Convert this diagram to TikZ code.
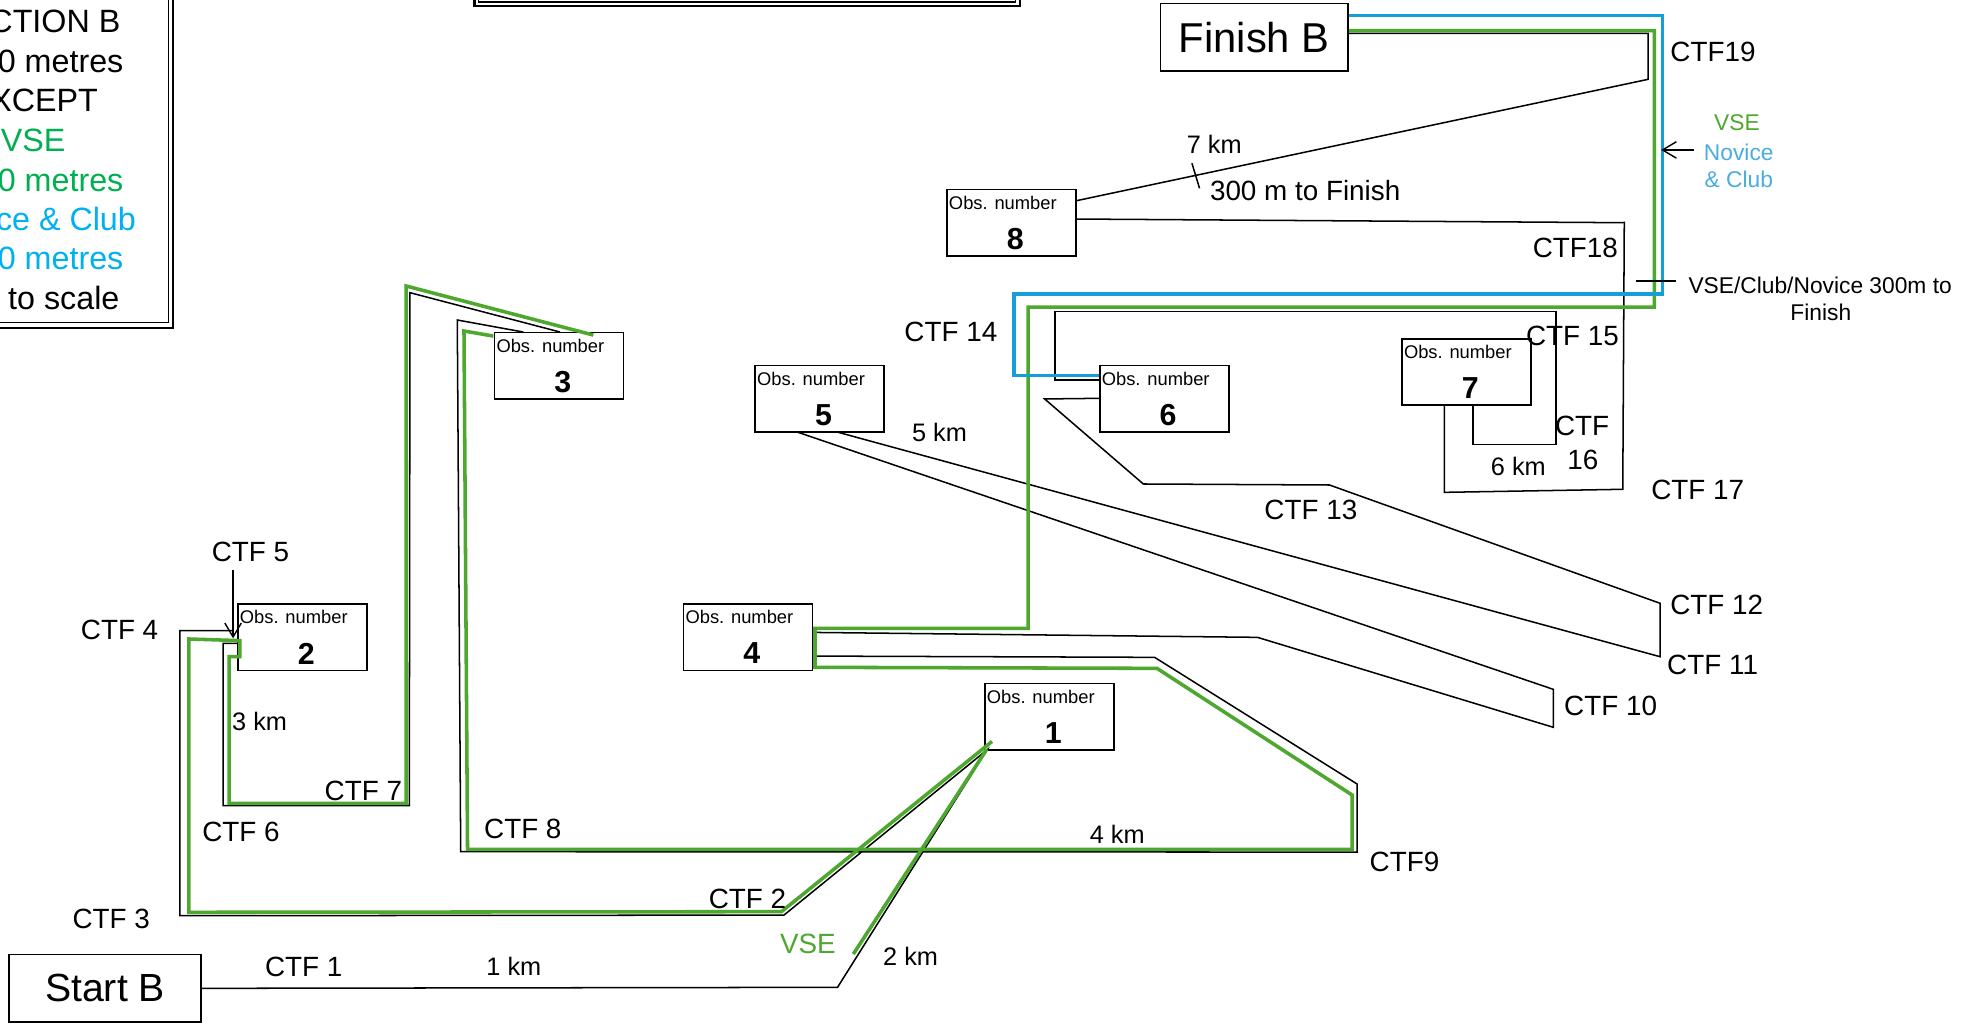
\documentclass[tikz,border=0pt]{standalone}
\usepackage{fontspec}
\setmainfont{Liberation Sans}
\usetikzlibrary{arrows.meta,calc}
\definecolor{rgreen}{RGB}{78,167,46}
\definecolor{rblue}{RGB}{22,158,216}
\definecolor{lgreen}{RGB}{0,176,80}
\definecolor{lcyan}{RGB}{0,176,240}
\definecolor{nblue}{RGB}{74,173,224}
\newcommand\mkobs[3]{%
  \node[obsbox] (#1) at (#2) {};
  \node[obstitle] (#1t) at ($(#1.north west)+(2,11)$) {Obs. number};
  \node[obsnum] (#1n) at ($(#1.center)+(3,13)$) {#3};
}
\begin{document}
\begin{tikzpicture}[x=1pt,y=-1pt,
  course/.style={line width=1.2pt,black},
  vsepath/.style={line width=2.8pt,rgreen},
  clubpath/.style={line width=2.8pt,rblue},
  obsbox/.style={draw,line width=1.2pt,minimum width=102pt,minimum height=52.5pt,inner sep=0pt},
  bigbox/.style={draw,line width=1.2pt,inner sep=0pt},
  obstitle/.style={anchor=west,inner sep=0pt,font=\fontsize{14.5}{16}\selectfont},
  obsnum/.style={inner sep=0pt,font=\fontsize{24}{26}\selectfont\bfseries},
  lbl/.style={inner sep=0pt,font=\fontsize{22}{24}\selectfont},
  kmlbl/.style={inner sep=0pt,font=\fontsize{20}{22}\selectfont},
  smalllbl/.style={inner sep=0pt,font=\fontsize{18}{20}\selectfont},
  legend/.style={inner sep=0pt,anchor=east,font=\fontsize{25.5}{28}\selectfont},
  barb/.style={-{Straight Barb[length=11pt,width=13pt]},line width=1.1pt}
]
\useasboundingbox (0,0) rectangle (1568,809);
\clip (0,0) rectangle (1568,809);
\fill[white] (0,0) rectangle (1568,809);

% legend box (cut by the page edge)
\draw[line width=1.6pt] (-10,-10) rectangle (136.9,259.5);
\draw[line width=0.9pt] (-10,-10) rectangle (133.4,255);
\node[legend] (lg1) at (95.3,17.1) {CTION B};
\node[legend] (lg2) at (97.7,48.7) {0 metres};
\node[legend] (lg3) at (77.6,79.6) {XCEPT};
\node[legend,text=lgreen] (lg4) at (51.9,110.6) {VSE};
\node[legend,text=lgreen] (lg5) at (97.7,142.3) {0 metres};
\node[legend,text=lcyan] (lg6) at (107.6,173.1) {ce \& Club};
\node[legend,text=lcyan] (lg7) at (97.7,204.2) {0 metres};
\node[legend] (lg8) at (94.6,235.8) {to scale};

% top box (cut by the page edge)
\draw[line width=1.6pt] (375,-10) rectangle (805.9,4.5);
\draw[line width=0.9pt] (378.5,-10) rectangle (802.4,1.6);

% start / finish
\node[bigbox,minimum width=151.7pt,minimum height=53.2pt,font=\fontsize{31}{34}\selectfont] (startB) at (83,780.9) {Start B};
\node[bigbox,minimum width=148.4pt,minimum height=53.5pt,font=\fontsize{33}{36}\selectfont] (finishB) at (991.2,29.35) {Finish B};

% obstacle boxes
\mkobs{o1}{829.4,566.5}{1}
\mkobs{o2}{239,503.6}{2}
\mkobs{o3}{441.8,288.9}{3}
\mkobs{o4}{591.2,503.5}{4}
\mkobs{o5}{647.8,315.1}{5}
\mkobs{o6}{920.2,315.1}{6}
\mkobs{o7}{1159,294}{7}
\mkobs{o8}{799.4,176.2}{8}

% corner coordinates
\coordinate (s0) at (startB.east |- 0,781.1);
\coordinate (ctf1) at (661.9,780.3);
\coordinate (p1) at (780,592.7);
\coordinate (ctf2) at (619.6,723.2);
\coordinate (ctf3) at (142.2,723.7);
\coordinate (ctf4) at (142.2,498.4);
\coordinate (ctf5) at (184.2,498.4);
\coordinate (q2a) at (187.7,508.4);
\coordinate (q2b) at (176.4,508.4);
\coordinate (ctf6) at (176.4,636.7);
\coordinate (ctf7) at (323.5,636.7);
\coordinate (t7) at (324,231.3);
\coordinate (q3a) at (442.6,262.4);
\coordinate (q3b) at (413.6,262.4);
\coordinate (t8) at (361.4,252.9);
\coordinate (ctf8) at (364.1,673.1);
\coordinate (ctf9) at (1072.5,673.4);
\coordinate (ctf9b) at (1072.5,619.6);
\coordinate (k9) at (912.5,519.5);
\coordinate (q4a) at (642.2,518.5);
\coordinate (q4b) at (642.2,499.8);
\coordinate (k10) at (993.8,503.7);
\coordinate (ctf10a) at (1227.6,574.8);
\coordinate (ctf10b) at (1227.6,544.8);
\coordinate (q5a) at (630.8,341.7);
\coordinate (q5b) at (662.6,341.7);
\coordinate (ctf11) at (1312,519);
\coordinate (ctf12) at (1312,476.8);
\coordinate (ctf13a) at (1050.7,383.3);
\coordinate (ctf13b) at (903.6,382.5);
\coordinate (k13) at (825.6,315.3);
\coordinate (q6a) at (869,314.8);
\coordinate (q6b) at (869,300.3);
\coordinate (k14) at (833.7,300.3);
\coordinate (ctf14) at (833.7,246);
\coordinate (ctf15) at (1229.8,246);
\coordinate (ctf16) at (1229.8,351.2);
\coordinate (k16) at (1164.3,351.2);
\coordinate (q7a) at (1164.3,320.3);
\coordinate (q7b) at (1141.5,320.3);
\coordinate (k17) at (1141.5,389.1);
\coordinate (ctf17) at (1282.5,386.7);
\coordinate (ctf18t) at (1283.7,175.2);
\coordinate (ctf18) at (1283.5,176);
\coordinate (q8a) at (850.8,173.1);
\coordinate (q8b) at (850.8,158.6);
\coordinate (ctf19a) at (1302.5,62.7);
\coordinate (ctf19b) at (1302.5,26.3);
\coordinate (fb) at (finishB.east |- 0,26.3);

% black course
\draw[course] (s0) -- (ctf1) -- (p1) -- (ctf2) -- (ctf3) -- (ctf4) -- (ctf5);
\draw[course] (q2a) -- (q2b) -- (ctf6) -- (ctf7) -- (t7) -- (q3a);
\draw[course] (q3b) -- (t8) -- (ctf8) -- (ctf9) -- (ctf9b) -- (k9) -- (q4a);
\draw[course] (q4b) -- (k10) -- (ctf10a) -- (ctf10b) -- (q5a);
\draw[course] (q5b) -- (ctf11) -- (ctf12) -- (ctf13a) -- (ctf13b) -- (k13) -- (q6a);
\draw[course] (q6b) -- (k14) -- (ctf14) -- (ctf15) -- (ctf16) -- (k16) -- (q7a);
\draw[course] (q7b) -- (k17) -- (ctf17) -- (ctf18t);
\draw[course] (ctf18) -- (q8a);
\draw[course] (q8b) -- (ctf19a) -- (ctf19b) -- (fb);

% green VSE route
\coordinate (g0) at (finishB.east |- 0,24.2);
\coordinate (g1) at (1307.4,24.2);
\coordinate (g2) at (1307.4,242.7);
\coordinate (g3) at (812.5,242.7);
\coordinate (g4) at (812.5,496.6);
\coordinate (g5) at (644.1,496.6);
\coordinate (g6) at (644.1,527.4);
\coordinate (g7) at (914.4,528.2);
\coordinate (g8) at (1068.6,628.3);
\coordinate (g9) at (1068.6,671.2);
\coordinate (g10) at (369.5,671.2);
\coordinate (g11) at (366.7,261.6);
\coordinate (g12) at (389.9,265.6);
\coordinate (h0) at (468.9,264.8);
\coordinate (h1) at (320.9,226);
\coordinate (h2) at (321,634.9);
\coordinate (h3) at (181,634.9);
\coordinate (h4) at (181,519);
\coordinate (h5) at (189.5,519);
\coordinate (h6) at (189.5,506.3);
\coordinate (h7) at (149.2,505);
\coordinate (h8) at (149.2,721);
\coordinate (h9) at (617.6,720.5);
\coordinate (h10) at (784,586);
\coordinate (v0) at (780,592);
\coordinate (v1) at (674.4,754);
\draw[vsepath] (g0) -- (g1) -- (g2) -- (g3) -- (g4) -- (g5) -- (g6) -- (g7) -- (g8) -- (g9) -- (g10) -- (g11) -- (g12);
\draw[vsepath] (h0) -- (h1) -- (h2) -- (h3) -- (h4) -- (h5) -- (h6) -- (h7) -- (h8) -- (h9) -- (h10);
\draw[vsepath] (v0) -- (v1);

% blue Novice & Club route
\coordinate (b0) at (finishB.east |- 0,12.4);
\coordinate (b1) at (1314,12.4);
\coordinate (b2) at (1314,232.2);
\coordinate (b3) at (801.2,232.2);
\coordinate (b4) at (801.2,296.9);
\coordinate (b5) at (o6.west |- 0,296.9);
\draw[clubpath] (b0) -- (b1) -- (b2) -- (b3) -- (b4) -- (b5);

% ticks and arrows
\coordinate (tk1a) at (942,129);
\coordinate (tk1b) at (948,148.8);
\draw[course] (tk1a) -- (tk1b);
\coordinate (tk2a) at (1292.6,222.1);
\coordinate (tk2b) at (1324.8,222.1);
\draw[course] (tk2a) -- (tk2b);
\coordinate (ar1a) at (184.2,450.5);
\coordinate (ar1b) at (184.2,504.5);
\draw[barb] (ar1a) -- (ar1b);
\coordinate (ar2a) at (1338.6,118.5);
\coordinate (ar2b) at (1312.8,118.5);
\draw[barb] (ar2a) -- (ar2b);

% labels
\node[lbl] (l1) at (240,764) {CTF 1};
\node[kmlbl] (l1k) at (406.1,763.5) {1 km};
\node[lbl] (l2) at (590.7,710.8) {CTF 2};
\node[lbl,text=rgreen] (lv) at (638.5,746) {VSE};
\node[kmlbl] (l2k) at (719.7,755.6) {2 km};
\node[lbl] (l3) at (87.9,726.3) {CTF 3};
\node[lbl] (l4) at (94.5,497.9) {CTF 4};
\node[lbl] (l5) at (198,436.5) {CTF 5};
\node[kmlbl] (l3k) at (205.2,570.4) {3 km};
\node[lbl] (l6) at (190.5,657.8) {CTF 6};
\node[lbl] (l7) at (287.2,624.9) {CTF 7};
\node[lbl] (l8) at (413.2,655.2) {CTF 8};
\node[kmlbl] (l4k) at (883,659) {4 km};
\node[lbl] (l9) at (1110,681) {CTF9};
\node[lbl] (l10) at (1272.9,558) {CTF 10};
\node[lbl] (l11) at (1353.5,525.6) {CTF 11};
\node[lbl] (l12) at (1356.7,478.1) {CTF 12};
\node[kmlbl] (l5k) at (742.5,342) {5 km};
\node[lbl] (l13) at (1036,403) {CTF 13};
\node[lbl] (l14) at (751.5,262) {CTF 14};
\node[lbl] (l15) at (1242.7,265.3) {CTF 15};
\node[lbl] (l16a) at (1250.4,336.4) {CTF};
\node[lbl] (l16b) at (1251,363.5) {16};
\node[kmlbl] (l6k) at (1200,368.3) {6 km};
\node[lbl] (l17) at (1341.7,387.3) {CTF 17};
\node[lbl] (l18) at (1245,196.3) {CTF18};
\node[lbl] (l19) at (1353.8,40.8) {CTF19};
\node[kmlbl] (l7k) at (959.6,113.8) {7 km};
\node[lbl] (l300) at (1031.5,150.2) {300 m to Finish};
\node[smalllbl,text=rgreen] (av) at (1372.8,97) {VSE};
\node[smalllbl,text=nblue] (an) at (1374.2,120.4) {Novice};
\node[smalllbl,text=nblue] (ac) at (1374.2,141.5) {\& Club};
\node[smalllbl] (vc1) at (1438.5,225.2) {VSE/Club/Novice 300m to};
\node[smalllbl] (vc2) at (1439,246.8) {Finish};
\end{tikzpicture}
\end{document}
